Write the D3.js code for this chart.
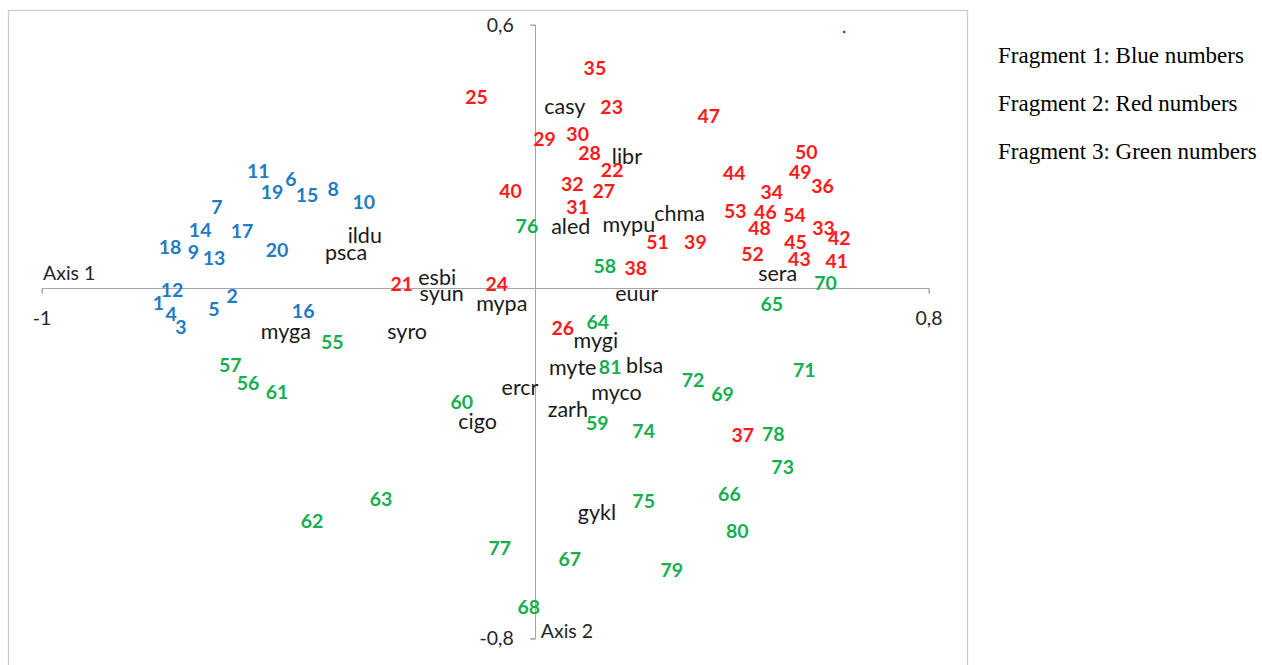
<!DOCTYPE html>
<html>
<head>
<meta charset="utf-8">
<script src="https://cdn.jsdelivr.net/npm/d3@7"></script>
<style>
  html, body { margin: 0; padding: 0; background: #fff; }
  svg { display: block; }
</style>
</head>
<body>
<svg id="chart" width="1262" height="665"></svg>
<script>
// Sample scores on the first two ordination axes: [label, axis1, axis2]
const fragment1 = [
  [1, -0.764, -0.034], [2, -0.614, -0.018], [3, -0.718, -0.089], [4, -0.738, -0.059],
  [5, -0.651, -0.048], [6, -0.495, 0.249], [7, -0.645, 0.185], [8, -0.409, 0.226],
  [9, -0.693, 0.082], [10, -0.347, 0.196], [11, -0.561, 0.267], [12, -0.736, -0.005],
  [13, -0.651, 0.068], [14, -0.679, 0.132], [15, -0.462, 0.212], [16, -0.470, -0.052],
  [17, -0.594, 0.130], [18, -0.740, 0.094], [19, -0.533, 0.219], [20, -0.523, 0.087]
];
const fragment2 = [
  [21, -0.270, 0.009], [22, 0.157, 0.269], [23, 0.156, 0.413], [24, -0.077, 0.009],
  [25, -0.118, 0.436], [26, 0.057, -0.091], [27, 0.140, 0.221], [28, 0.111, 0.308],
  [29, 0.020, 0.340], [30, 0.087, 0.351], [31, 0.087, 0.185], [32, 0.076, 0.237],
  [33, 0.586, 0.137], [34, 0.481, 0.219], [35, 0.122, 0.502], [36, 0.584, 0.233],
  [37, 0.422, -0.335], [38, 0.205, 0.046], [39, 0.326, 0.105], [40, -0.049, 0.221],
  [41, 0.613, 0.062], [42, 0.618, 0.114], [43, 0.537, 0.066], [44, 0.405, 0.262],
  [45, 0.529, 0.105], [46, 0.468, 0.173], [47, 0.353, 0.393], [48, 0.456, 0.137],
  [49, 0.539, 0.265], [50, 0.551, 0.310], [51, 0.249, 0.105], [52, 0.442, 0.078],
  [53, 0.407, 0.176], [54, 0.527, 0.167]
];
const fragment3 = [
  [55, -0.411, -0.123], [56, -0.582, -0.217], [57, -0.618, -0.176], [58, 0.142, 0.050],
  [59, 0.127, -0.308], [60, -0.148, -0.260], [61, -0.523, -0.237], [62, -0.452, -0.532],
  [63, -0.312, -0.482], [64, 0.128, -0.078], [65, 0.481, -0.037], [66, 0.395, -0.470],
  [67, 0.071, -0.618], [68, -0.012, -0.728], [69, 0.381, -0.242], [70, 0.590, 0.011],
  [71, 0.547, -0.187], [72, 0.321, -0.210], [73, 0.503, -0.408], [74, 0.221, -0.326],
  [75, 0.221, -0.486], [76, -0.016, 0.141], [77, -0.071, -0.593], [78, 0.484, -0.333],
  [79, 0.278, -0.644], [80, 0.411, -0.555], [81, 0.153, -0.180]
];
// Species scores on the same axes
const species = [
  ["casy", 0.061, 0.415], ["libr", 0.187, 0.301], ["chma", 0.294, 0.171],
  ["aled", 0.073, 0.141], ["mypu", 0.191, 0.146], ["ildu", -0.345, 0.121],
  ["psca", -0.383, 0.082], ["sera", 0.493, 0.034], ["esbi", -0.198, 0.025],
  ["syun", -0.189, -0.011], ["mypa", -0.067, -0.034], ["euur", 0.207, -0.011],
  ["myga", -0.505, -0.098], ["syro", -0.259, -0.098], ["mygi", 0.124, -0.119],
  ["myte", 0.077, -0.180], ["blsa", 0.223, -0.176], ["ercr", -0.030, -0.226],
  ["myco", 0.166, -0.237], ["zarh", 0.067, -0.276], ["cigo", -0.116, -0.303],
  ["gykl", 0.126, -0.511]
];
// Stray marker
const strayPoint = [[0.628, 0.584]];

const xDomain = [-1, 0.8];
const yDomain = [-0.8, 0.6];
const xTickLabels = ["-1", "0,8"];
const yTickLabels = ["-0,8", "0,6"];
const axisTitles = ["Axis 1", "Axis 2"];
const legendLines = [
  "Fragment 1: Blue numbers",
  "Fragment 2: Red numbers",
  "Fragment 3: Green numbers"
];

const svg = d3.select("#chart");
const x = d3.scaleLinear().domain(xDomain).range([42, 929]);
const y = d3.scaleLinear().domain(yDomain).range([638.7, 25]);

const axisColor = "#a6a6a6";
const sans = "Lato, 'Open Sans', sans-serif";

// Plot frame
svg.append("rect")
  .attr("x", 8.5).attr("y", 10.5)
  .attr("width", 959).attr("height", 700)
  .attr("fill", "none").attr("stroke", "#c8c8c8").attr("stroke-width", 1.2);

// Horizontal axis through y = 0
const xAxisG = svg.append("g").attr("transform", `translate(0,${Math.round(y(0)) + 0.5})`);
xAxisG.call(d3.axisBottom(x).tickValues(xDomain).tickSize(5).tickFormat(() => ""));
xAxisG.selectAll("path, line").attr("stroke", axisColor);
xAxisG.select(".domain").attr("d", `M${x(xDomain[0])},5V0H${x(xDomain[1])}V5`);

// Vertical axis through x = 0
const yAxisG = svg.append("g").attr("transform", `translate(${Math.round(x(0)) + 0.5},0)`);
yAxisG.call(d3.axisLeft(y).tickValues(yDomain).tickSize(5).tickFormat(() => ""));
yAxisG.selectAll("path, line").attr("stroke", axisColor);
yAxisG.select(".domain").attr("d", `M-5,${y(yDomain[0])}H0V${y(yDomain[1])}H-5`);

// Tick labels at the ends of the axes
const tickText = svg.append("g").attr("font-family", sans).attr("font-size", 19.5).attr("fill", "#262626");
tickText.append("text").attr("x", x(xDomain[0])).attr("y", y(0) + 37)
  .attr("text-anchor", "middle").text(xTickLabels[0]);
tickText.append("text").attr("x", x(xDomain[1])).attr("y", y(0) + 37)
  .attr("text-anchor", "middle").text(xTickLabels[1]);
tickText.append("text").attr("x", x(0) - 21).attr("y", y(yDomain[0]) + 6)
  .attr("text-anchor", "end").text(yTickLabels[0]);
tickText.append("text").attr("x", x(0) - 21).attr("y", y(yDomain[1]) + 7)
  .attr("text-anchor", "end").text(yTickLabels[1]);

// Axis titles
tickText.append("text").attr("x", x(xDomain[0]) + 1).attr("y", y(0) - 8)
  .attr("text-anchor", "start").text(axisTitles[0]);
tickText.append("text").attr("x", x(0) + 6).attr("y", y(yDomain[0]) - 1)
  .attr("text-anchor", "start").text(axisTitles[1]);

// Point labels
function drawLabels(data, color, weight, size) {
  svg.append("g").selectAll("text").data(data).join("text")
    .attr("x", d => x(d[1]))
    .attr("y", d => y(d[2]))
    .attr("dy", "0.36em")
    .attr("text-anchor", "middle")
    .attr("font-family", sans)
    .attr("font-size", size)
    .attr("font-weight", weight)
    .attr("fill", color)
    .text(d => d[0]);
}
drawLabels(species, "#1a1a1a", 400, 21.5);
drawLabels(fragment1, "#1f7bc4", 700, 19.5);
drawLabels(fragment2, "#ff1a1a", 700, 19.5);
drawLabels(fragment3, "#14b04f", 700, 19.5);

svg.append("g").selectAll("circle").data(strayPoint).join("circle")
  .attr("cx", d => x(d[0])).attr("cy", d => y(d[1]))
  .attr("r", 1.2).attr("fill", "#2020ff");

// Legend text beside the plot
svg.append("g").selectAll("text").data(legendLines).join("text")
  .attr("x", 998)
  .attr("y", (d, i) => 63 + i * 48)
  .attr("font-family", "'Liberation Serif', 'Times New Roman', serif")
  .attr("font-size", 23)
  .attr("fill", "#000")
  .text(d => d);
</script>
</body>
</html>
